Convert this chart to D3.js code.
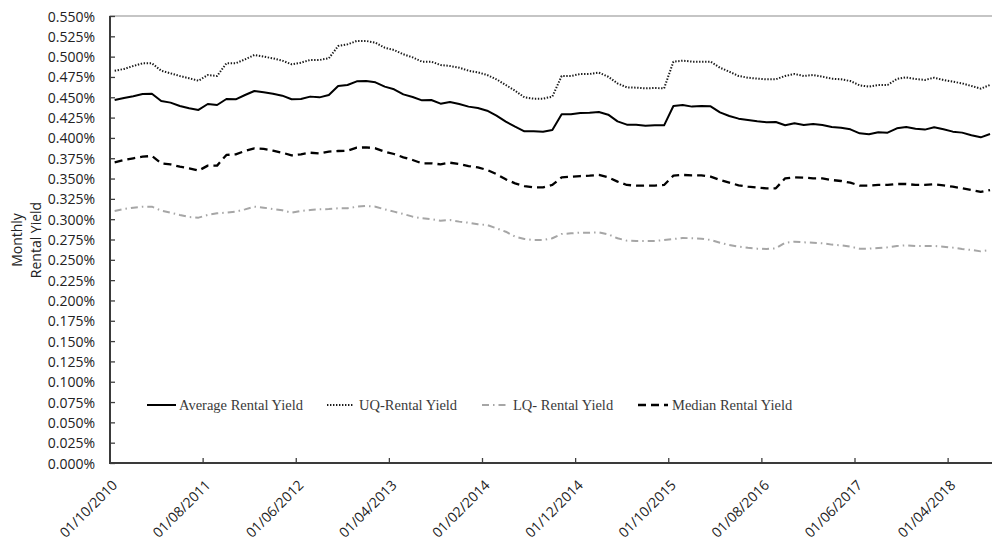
<!DOCTYPE html>
<html>
<head>
<meta charset="utf-8">
<script src="https://cdn.jsdelivr.net/npm/d3@7"></script>
<style>
  html, body { margin: 0; padding: 0; background: #fff; }
  svg { display: block; }
</style>
</head>
<body>
<svg id="chart" width="992" height="546"></svg>
<script>
// ---------- DATA ----------
const startMonth = new Date(2010, 9, 1);   // 01/10/2010
const endMonth = new Date(2018, 8, 1);     // exclusive -> last is 01/08/2018
const fmtDate = d3.timeFormat("%d/%m/%Y");
const categories = d3.timeMonth.range(startMonth, endMonth).map(fmtDate);

const xTickLabels = ["01/10/2010","01/08/2011","01/06/2012","01/04/2013","01/02/2014",
                     "01/12/2014","01/10/2015","01/08/2016","01/06/2017","01/04/2018"];

const yTicks = [0, 0.025, 0.05, 0.075, 0.1, 0.125, 0.15, 0.175, 0.2, 0.225, 0.25, 0.275,
                0.3, 0.325, 0.35, 0.375, 0.4, 0.425, 0.45, 0.475, 0.5, 0.525, 0.55];

// values in percent
const averageYield = [
  0.4467,0.4491,0.4512,0.4540,0.4544,0.4454,0.4434,0.4393,0.4364,0.4344,
  0.4417,0.4405,0.4479,0.4475,0.4528,0.4577,0.4561,0.4544,0.4520,0.4475,
  0.4479,0.4508,0.4499,0.4528,0.4639,0.4651,0.4696,0.4700,0.4684,0.4631,
  0.4598,0.4536,0.4503,0.4462,0.4467,0.4421,0.4442,0.4417,0.4385,0.4368,
  0.4335,0.4274,0.4200,0.4138,0.4081,0.4081,0.4077,0.4097,0.4290,0.4290,
  0.4307,0.4311,0.4319,0.4286,0.4204,0.4163,0.4163,0.4151,0.4155,0.4155,
  0.4393,0.4405,0.4385,0.4393,0.4389,0.4315,0.4270,0.4237,0.4220,0.4204,
  0.4192,0.4196,0.4155,0.4180,0.4159,0.4171,0.4159,0.4134,0.4126,0.4106,
  0.4056,0.4044,0.4069,0.4065,0.4118,0.4134,0.4114,0.4102,0.4130,0.4106,
  0.4077,0.4065,0.4032,0.4007,0.4048
];
const uqYield = [
  0.4827,0.4848,0.4885,0.4918,0.4918,0.4827,0.4795,0.4762,0.4733,0.4704,
  0.4774,0.4762,0.4918,0.4918,0.4967,0.5020,0.5000,0.4979,0.4951,0.4906,
  0.4926,0.4959,0.4959,0.4979,0.5131,0.5151,0.5193,0.5193,0.5172,0.5110,
  0.5082,0.5029,0.4991,0.4938,0.4938,0.4897,0.4885,0.4864,0.4827,0.4807,
  0.4774,0.4721,0.4651,0.4581,0.4499,0.4483,0.4483,0.4508,0.4762,0.4762,
  0.4787,0.4787,0.4803,0.4753,0.4671,0.4622,0.4618,0.4610,0.4614,0.4610,
  0.4938,0.4951,0.4938,0.4938,0.4938,0.4864,0.4815,0.4762,0.4741,0.4729,
  0.4721,0.4721,0.4762,0.4787,0.4762,0.4774,0.4753,0.4729,0.4721,0.4700,
  0.4647,0.4631,0.4651,0.4651,0.4725,0.4745,0.4725,0.4713,0.4741,0.4713,
  0.4692,0.4671,0.4639,0.4606,0.4651
];
const lqYield = [
  0.3101,0.3125,0.3142,0.3154,0.3154,0.3105,0.3080,0.3052,0.3027,0.3019,
  0.3052,0.3072,0.3080,0.3093,0.3121,0.3154,0.3142,0.3125,0.3109,0.3080,
  0.3101,0.3113,0.3121,0.3125,0.3134,0.3134,0.3154,0.3162,0.3154,0.3121,
  0.3093,0.3064,0.3031,0.3011,0.3002,0.2981,0.2990,0.2970,0.2957,0.2937,
  0.2929,0.2888,0.2846,0.2785,0.2756,0.2744,0.2744,0.2765,0.2818,0.2826,
  0.2834,0.2834,0.2838,0.2814,0.2765,0.2736,0.2732,0.2732,0.2732,0.2744,
  0.2756,0.2769,0.2765,0.2760,0.2744,0.2711,0.2682,0.2662,0.2648,0.2637,
  0.2633,0.2641,0.2711,0.2723,0.2715,0.2711,0.2703,0.2687,0.2678,0.2662,
  0.2637,0.2637,0.2646,0.2654,0.2670,0.2678,0.2670,0.2670,0.2670,0.2662,
  0.2650,0.2633,0.2621,0.2604,0.2621
];
const medianYield = [
  0.3700,0.3728,0.3749,0.3769,0.3778,0.3687,0.3675,0.3646,0.3626,0.3597,
  0.3659,0.3659,0.3790,0.3798,0.3839,0.3872,0.3864,0.3843,0.3818,0.3785,
  0.3798,0.3818,0.3810,0.3831,0.3839,0.3843,0.3880,0.3884,0.3872,0.3831,
  0.3802,0.3761,0.3728,0.3687,0.3687,0.3675,0.3695,0.3679,0.3654,0.3638,
  0.3605,0.3554,0.3490,0.3441,0.3408,0.3392,0.3392,0.3421,0.3515,0.3523,
  0.3531,0.3536,0.3544,0.3515,0.3462,0.3421,0.3413,0.3413,0.3413,0.3421,
  0.3536,0.3544,0.3540,0.3540,0.3523,0.3482,0.3449,0.3417,0.3400,0.3388,
  0.3380,0.3380,0.3503,0.3515,0.3511,0.3503,0.3503,0.3482,0.3470,0.3449,
  0.3413,0.3413,0.3421,0.3421,0.3433,0.3433,0.3421,0.3421,0.3429,0.3417,
  0.3400,0.3380,0.3359,0.3335,0.3359
];

const seriesNames = ["Average Rental Yield", "UQ-Rental Yield", "LQ- Rental Yield", "Median Rental Yield"];

// ---------- LAYOUT / STYLES ----------
const plotLeft = 110, plotTop = 16, plotBottom = 463;
const bandStep = 9.3125;
const plotRight = plotLeft + bandStep * categories.length;

const styles = {
  "Average Rental Yield": { stroke: "#000", width: 2, dash: null },
  "UQ-Rental Yield":      { stroke: "#1a1a1a", width: 2, dash: "1.4,1.6" },
  "LQ- Rental Yield":     { stroke: "#a6a6a6", width: 2, dash: "7,4,1.5,4" },
  "Median Rental Yield":  { stroke: "#000", width: 2.3, dash: "8,5" }
};

const seriesData = [
  { name: seriesNames[0], values: averageYield },
  { name: seriesNames[1], values: uqYield },
  { name: seriesNames[2], values: lqYield },
  { name: seriesNames[3], values: medianYield }
];

const svg = d3.select("#chart");
svg.append("rect").attr("width", 992).attr("height", 546).attr("fill", "#fff");

const x = d3.scaleBand().domain(categories).range([plotLeft, plotRight]).paddingInner(0).paddingOuter(0);
const y = d3.scaleLinear().domain([0, 0.55]).range([plotBottom, plotTop]);
const cx = d => x(d) + x.bandwidth() / 2;

const axisFont = "'Open Sans', 'Noto Sans', sans-serif";
const legendFont = "'Liberation Serif', 'DejaVu Serif', serif";

// plot area border (top / right)
svg.append("rect")
  .attr("x", plotLeft).attr("y", plotTop)
  .attr("width", plotRight - plotLeft).attr("height", plotBottom - plotTop)
  .attr("fill", "none").attr("stroke", "#8c8c8c").attr("stroke-width", 1);

// y axis
const yAxis = d3.axisRight(y).tickValues(yTicks).tickSize(5).tickFormat("");
const gy = svg.append("g").attr("transform", `translate(${plotLeft},0)`).call(yAxis);
gy.select(".domain").remove();
gy.selectAll(".tick line").attr("stroke", "#404040").attr("stroke-width", 1.3);

svg.append("g").selectAll("text").data(yTicks).join("text")
  .attr("x", 95).attr("y", d => y(d) + 5.5)
  .attr("text-anchor", "end")
  .attr("font-family", axisFont).attr("font-size", "14px").attr("fill", "#222")
  .text(d => d3.format(".3f")(d) + "%");

// x axis ticks at category boundaries every 10 categories
const tickCats = categories.filter((c, i) => i % 10 === 0);
svg.append("g").selectAll("line").data(tickCats).join("line")
  .attr("x1", d => x(d)).attr("x2", d => x(d))
  .attr("y1", plotBottom).attr("y2", plotBottom - 5)
  .attr("stroke", "#404040").attr("stroke-width", 1.3);

// axis lines
svg.append("line").attr("x1", plotLeft).attr("x2", plotLeft).attr("y1", plotTop).attr("y2", plotBottom + 1)
  .attr("stroke", "#3a3a3a").attr("stroke-width", 2);
svg.append("line").attr("x1", plotLeft - 1).attr("x2", plotRight).attr("y1", plotBottom).attr("y2", plotBottom)
  .attr("stroke", "#3a3a3a").attr("stroke-width", 2);

// x tick labels
svg.append("g").selectAll("text").data(xTickLabels).join("text")
  .attr("transform", d => `translate(${cx(d) + 3.6},486) rotate(-45)`)
  .attr("text-anchor", "end")
  .attr("font-family", axisFont).attr("font-size", "14px").attr("fill", "#222")
  .text(d => d);

// y axis title
const yTitle = svg.append("g").attr("font-family", axisFont).attr("font-size", "14px").attr("fill", "#222");
yTitle.append("text").attr("transform", "translate(22,240) rotate(-90)").attr("text-anchor", "middle").text("Monthly");
yTitle.append("text").attr("transform", "translate(41,240) rotate(-90)").attr("text-anchor", "middle").text("Rental Yield");

// lines
const clip = svg.append("clipPath").attr("id", "plotclip").append("rect")
  .attr("x", plotLeft).attr("y", plotTop).attr("width", plotRight - plotLeft).attr("height", plotBottom - plotTop);

const line = d3.line().x((d, i) => cx(categories[i])).y(d => y(d));
const drawOrder = [seriesData[2], seriesData[3], seriesData[1], seriesData[0]];
svg.append("g").attr("clip-path", "url(#plotclip)")
  .selectAll("path").data(drawOrder).join("path")
  .attr("d", d => line(d.values))
  .attr("fill", "none")
  .attr("stroke", d => styles[d.name].stroke)
  .attr("stroke-width", d => styles[d.name].width)
  .attr("stroke-dasharray", d => styles[d.name].dash)
  .attr("stroke-linejoin", "round");

// legend
const legendItems = [
  { name: seriesNames[0], x1: 147, x2: 176, tx: 179 },
  { name: seriesNames[1], x1: 327, x2: 354, tx: 359 },
  { name: seriesNames[2], x1: 482, x2: 509, tx: 513 },
  { name: seriesNames[3], x1: 638, x2: 668, tx: 672 }
];
const lg = svg.append("g");
lg.selectAll("line").data(legendItems).join("line")
  .attr("x1", d => d.x1).attr("x2", d => d.x2).attr("y1", 405).attr("y2", 405)
  .attr("stroke", d => styles[d.name].stroke)
  .attr("stroke-width", d => styles[d.name].width)
  .attr("stroke-dasharray", d => styles[d.name].dash);
lg.selectAll("text").data(legendItems).join("text")
  .attr("x", d => d.tx).attr("y", 409.5)
  .attr("font-family", legendFont).attr("font-size", "14.5px").attr("fill", "#3a3a3a")
  .text(d => d.name);
</script>
</body>
</html>
